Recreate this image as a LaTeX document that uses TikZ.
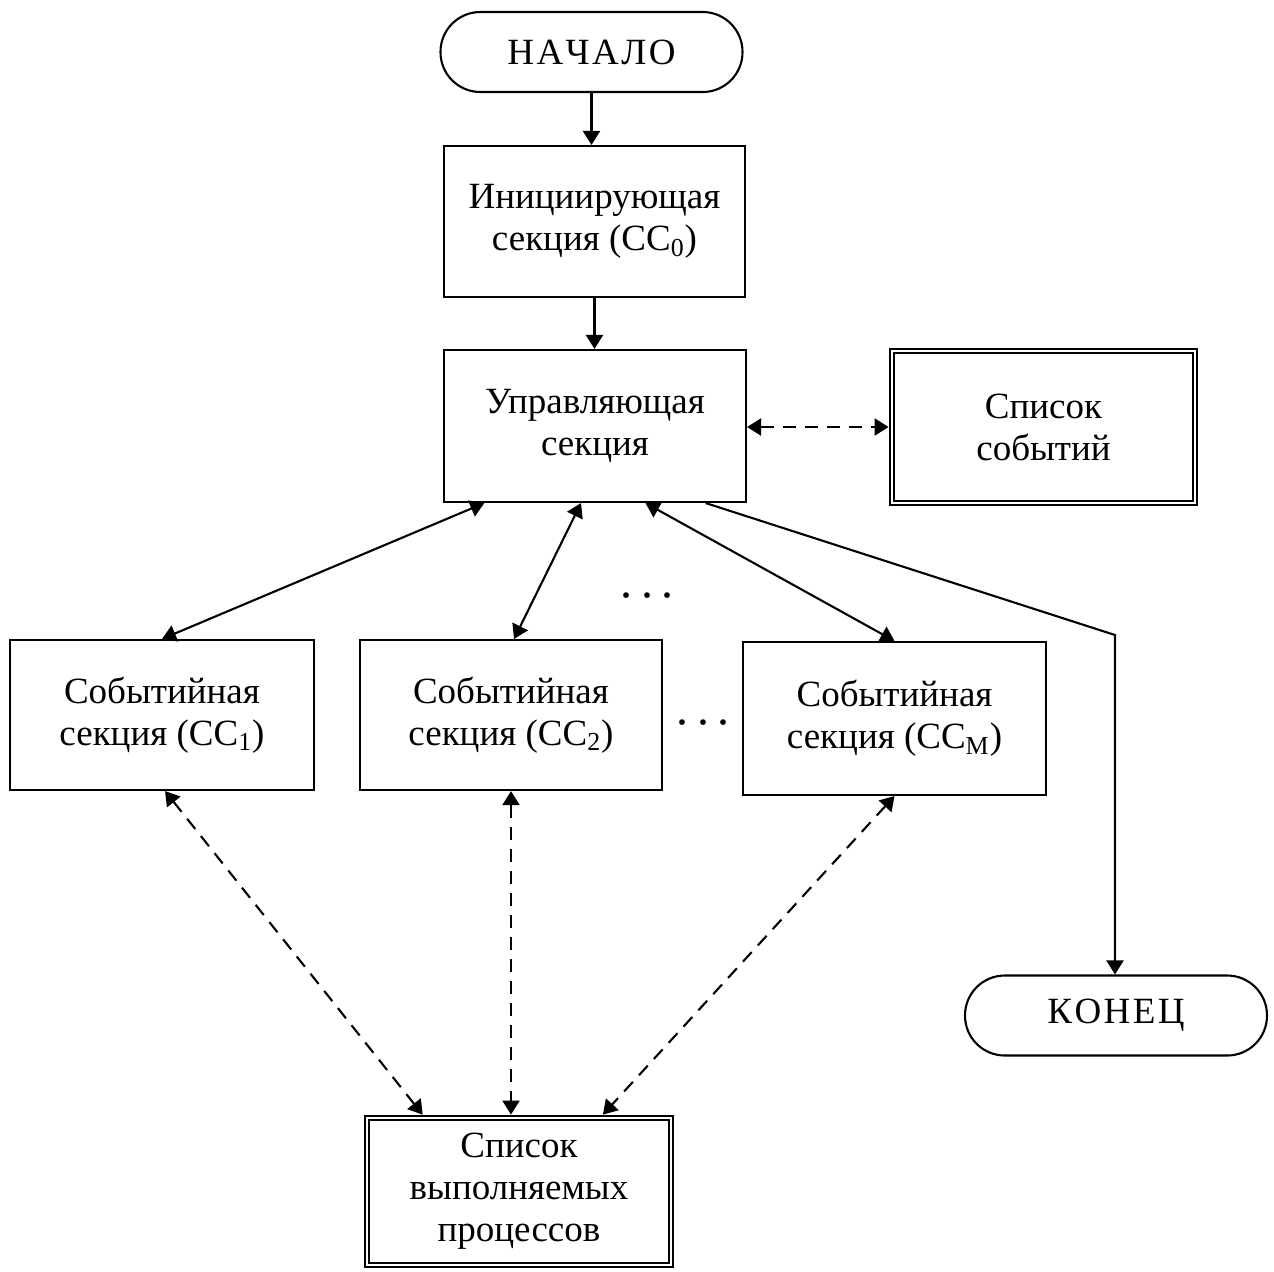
\documentclass[tikz,border=0pt]{standalone}
\usepackage{fontspec}
\setmainfont{Liberation Serif}
\usetikzlibrary{arrows.meta,calc}

\begin{document}
\begin{tikzpicture}[x=0.5pt,y=-0.5pt,
  every node/.style={font=\fontsize{18.5}{21}\selectfont, align=center, inner sep=0pt},
  box/.style={draw, line width=1.05pt},
  term/.style={draw, line width=1.05pt, rounded corners=19.9pt, minimum width=151pt, minimum height=40pt},
  listbox/.style={draw, line width=0.85pt, double, double distance=1.3pt, outer sep=1.7pt},
  link/.style={line width=1.05pt, {Triangle[length=7pt,width=8.5pt]}-{Triangle[length=7pt,width=8.5pt]}},
  flow/.style={line width=1.05pt, -{Triangle[length=7pt,width=8.5pt]}},
  dlink/.style={link, dash pattern=on 6.5pt off 4.5pt},
  dotsrow/.style={font=\fontsize{24}{24}\selectfont}
]
\useasboundingbox (0,0) rectangle (1274,1271);

% terminals
\node[term] (start) at (591.5,52) {Н\hspace{1.2pt}А\hspace{1.2pt}Ч\hspace{1.2pt}А\hspace{1.2pt}Л\hspace{1.2pt}О};
\node[term] (stop) at (1116,1015.5) {К\hspace{1.2pt}О\hspace{1.2pt}Н\hspace{1.2pt}Е\hspace{1.2pt}Ц};

% sections
\node[box, minimum width=150.5pt, minimum height=75.5pt] (init) at (594.5,221.5)
  {Инициирующая\\секция (СС\textsubscript{0})};
\node[box, minimum width=151pt, minimum height=76pt] (ctrl) at (595,426)
  {Управляющая\\секция};
\node[box, minimum width=152pt, minimum height=75pt] (cc1) at (162,715)
  {Событийная\\секция (СС\textsubscript{1})};
\node[box, minimum width=151pt, minimum height=75pt] (cc2) at (511,715)
  {Событийная\\секция (СС\textsubscript{2})};
\node[box, minimum width=151.5pt, minimum height=76.5pt] (ccm) at (894.5,718.5)
  {Событийная\\секция (СС\textsubscript{M})};

% lists
\node[listbox, minimum width=151.5pt, minimum height=76pt] (events) at (1043.5,427)
  {Список\\событий};
\node[listbox, minimum width=152pt, minimum height=73.5pt] (procs) at (519,1191.5)
  {Список\\выполняемых\\процессов};

% ellipses
\node[dotsrow] (dotsA) at (647,602) {·\hspace{2.5pt}·\hspace{2.5pt}·};
\node[dotsrow] (dotsB) at (703,729) {·\hspace{2.5pt}·\hspace{2.5pt}·};

% control flow
\draw[flow] (start.south) -- (start.south |- init.north);
\draw[flow] (init.south) -- (init.south |- ctrl.north);
\draw[dlink] (ctrl.east |- events.west) -- (events.west);

\draw[link] ($(ctrl.south west)!0.136!(ctrl.south east)$) -- (cc1.north);
\draw[link] ($(ctrl.south west)!0.454!(ctrl.south east)$) -- ($(cc2.north west)!0.51!(cc2.north east)$);
\draw[link] ($(ctrl.south west)!0.666!(ctrl.south east)$) -- (ccm.north);

\coordinate (bend) at (1115,635);
\draw[flow] ($(ctrl.south west)!0.864!(ctrl.south east)$) -- (bend) -- (bend |- stop.north);

% process list access
\draw[dlink] ($(cc1.south west)!0.51!(cc1.south east)$) -- ($(procs.north west)!0.19!(procs.north east)$);
\draw[dlink] (cc2.south) -- (cc2.south |- procs.north);
\draw[dlink] (ccm.south) -- ($(procs.north west)!0.77!(procs.north east)$);
\end{tikzpicture}
\end{document}
